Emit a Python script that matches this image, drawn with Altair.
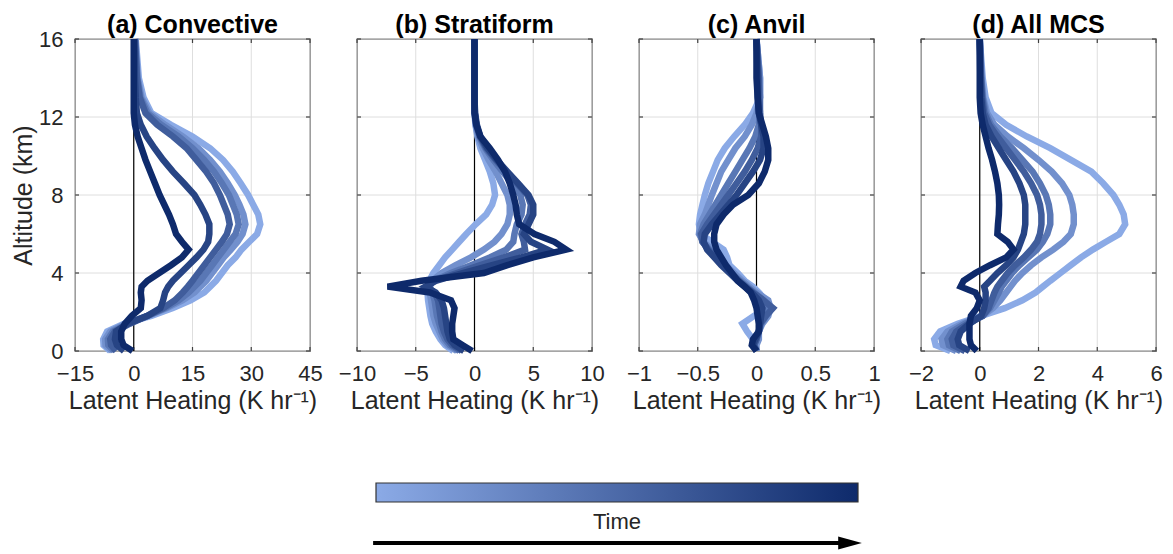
import altair as alt
import pandas as pd

FONT = "Liberation Sans"
TEXT = "#262626"
BOX = "#404040"
GRID = "#dedede"
LIGHT = "#8BAAE6"
DARK = "#0E2A6B"

# altitude levels (km) shared by every profile
ALT_KM = [0.0, 0.3, 0.6, 1.0, 1.4, 1.8, 2.2, 2.6, 3.0, 3.3, 3.6, 4.0, 4.4, 4.8, 5.2, 5.6,
          6.0, 6.5, 7.0, 7.5, 8.0, 8.6, 9.2, 9.8, 10.4, 11.0, 11.6, 12.2, 13.0, 14.0, 16.0]

# latent heating profiles (K/hr), earliest to latest
CONVECTIVE = [
    [-6.0, -7.7, -7.8, -6.8, -2.5, 4.5, 10.0, 14.5, 18.0, 19.5, 21.0, 22.5, 24.0, 26.0, 27.5, 29.5,
     31.5, 32.3, 31.8, 30.5, 29.2, 27.3, 25.3, 22.8, 19.5, 15.0, 9.5, 4.5, 2.5, 1.3, 0.5],
    [-5.5, -7.2, -7.3, -6.0, -2.0, 3.5, 8.5, 12.5, 15.5, 17.0, 18.5, 20.0, 21.5, 23.0, 24.8, 26.5,
     27.8, 28.5, 28.0, 27.0, 25.8, 24.0, 22.0, 19.5, 16.5, 12.5, 8.0, 4.0, 2.0, 1.0, 0.4],
    [-5.0, -6.5, -6.6, -5.3, -1.5, 3.5, 8.0, 11.5, 14.0, 15.5, 17.0, 18.5, 20.0, 21.5, 23.0, 24.5,
     26.0, 26.8, 26.3, 25.3, 24.3, 22.5, 20.5, 18.0, 15.0, 11.5, 7.0, 3.5, 1.7, 0.9, 0.3],
    [-4.5, -5.8, -6.0, -4.8, -1.0, 3.5, 7.5, 10.5, 12.5, 13.8, 15.0, 16.5, 18.0, 19.5, 21.0, 22.5,
     23.8, 24.5, 24.0, 23.0, 22.0, 20.5, 18.5, 16.0, 13.5, 10.0, 6.0, 3.0, 1.5, 0.8, 0.3],
    [-2.5, -4.3, -4.8, -4.5, -1.6, 3.5, 6.8, 7.5, 8.0, 8.8, 10.0, 12.0, 14.0, 16.0, 17.8, 19.0,
     19.3, 19.3, 18.3, 17.0, 15.5, 12.8, 10.0, 7.5, 5.3, 3.3, 1.8, 0.8, 0.5, 0.3, 0.2],
    [-0.3, -2.6, -3.2, -3.2, -2.3, -0.5, 1.8, 2.0, 1.8, 2.0, 3.5, 6.5, 9.5, 12.3, 14.0, 12.3,
     10.8, 10.0, 9.0, 7.8, 6.6, 5.4, 4.2, 3.0, 2.0, 1.0, 0.3, 0.0, 0.0, 0.0, 0.0],
]

STRATIFORM = [
    [-1.8, -2.5, -2.9, -3.3, -3.6, -3.75, -3.85, -3.95, -4.0, -3.95, -3.85, -3.5, -3.0, -2.5, -1.9, -1.3,
     -0.7, 0.1, 1.0, 1.5, 1.75, 1.6, 1.3, 0.9, 0.5, 0.25, 0.08, 0.0, 0.0, 0.0, 0.0],
    [-1.5, -2.3, -2.7, -3.0, -3.3, -3.5, -3.6, -3.7, -3.8, -3.8, -3.6, -2.8, -1.6, -0.3, 0.8, 1.7,
     2.3, 2.8, 3.0, 3.0, 2.8, 2.3, 1.8, 1.2, 0.7, 0.3, 0.1, 0.02, 0.0, 0.0, 0.0],
    [-1.3, -2.1, -2.5, -2.8, -3.0, -3.2, -3.3, -3.4, -3.6, -3.9, -3.5, -2.0, -0.3, 1.3, 2.7, 3.3,
     3.4, 3.6, 4.0, 4.1, 3.9, 3.2, 2.4, 1.6, 0.9, 0.4, 0.15, 0.03, 0.0, 0.0, 0.0],
    [-1.1, -1.9, -2.3, -2.6, -2.8, -2.9, -3.0, -3.1, -3.4, -4.0, -3.4, -1.5, 0.5, 2.5, 4.3, 4.2,
     4.0, 4.3, 4.7, 4.8, 4.5, 3.6, 2.7, 1.8, 1.0, 0.45, 0.15, 0.03, 0.0, 0.0, 0.0],
    [-0.9, -1.7, -2.1, -2.3, -2.4, -2.5, -2.6, -2.8, -3.3, -4.2, -3.3, -1.0, 1.5, 4.0, 6.2, 4.8,
     4.2, 4.6, 5.0, 5.0, 4.6, 3.7, 2.8, 1.9, 1.1, 0.5, 0.2, 0.05, 0.0, 0.0, 0.0],
    [-0.2, -1.0, -1.8, -1.9, -1.9, -1.8, -1.7, -2.0, -3.8, -7.4, -4.5, 0.8, 2.8, 5.0, 7.8, 6.8,
     5.1, 3.8, 3.6, 3.5, 3.3, 3.0, 2.6, 2.0, 1.3, 0.5, 0.15, 0.0, 0.0, 0.0, 0.0],
]

ANVIL = [
    [0.0, -0.01, -0.03, -0.08, -0.12, -0.02, 0.1, 0.08, 0.02, -0.03, -0.1, -0.16, -0.23, -0.25, -0.28, -0.38,
     -0.47, -0.49, -0.48, -0.46, -0.44, -0.41, -0.37, -0.33, -0.27, -0.19, -0.1, -0.03, 0.03, 0.03, 0.0],
    [0.0, 0.0, 0.02, 0.02, 0.05, 0.1, 0.12, 0.1, 0.0, -0.06, -0.12, -0.19, -0.26, -0.32, -0.38, -0.45,
     -0.49, -0.48, -0.44, -0.41, -0.38, -0.34, -0.3, -0.24, -0.18, -0.1, -0.04, 0.0, 0.03, 0.03, 0.0],
    [0.0, -0.02, 0.0, 0.02, 0.04, 0.08, 0.1, 0.06, -0.02, -0.08, -0.14, -0.21, -0.28, -0.34, -0.4, -0.46,
     -0.48, -0.45, -0.4, -0.35, -0.3, -0.24, -0.18, -0.12, -0.06, -0.01, 0.02, 0.03, 0.03, 0.02, 0.0],
    [0.0, -0.02, 0.0, 0.02, 0.03, 0.08, 0.14, 0.06, -0.03, -0.09, -0.15, -0.22, -0.29, -0.35, -0.41, -0.46,
     -0.47, -0.42, -0.36, -0.3, -0.24, -0.17, -0.1, -0.04, 0.01, 0.04, 0.04, 0.03, 0.02, 0.02, 0.0],
    [0.0, -0.03, -0.01, 0.02, 0.03, 0.04, 0.05, 0.02, -0.04, -0.1, -0.16, -0.23, -0.3, -0.36, -0.42, -0.45,
     -0.44, -0.38, -0.31, -0.24, -0.17, -0.1, -0.03, 0.03, 0.06, 0.06, 0.04, 0.02, 0.01, 0.01, 0.0],
    [0.0, -0.04, -0.03, 0.02, 0.02, 0.01, 0.0, -0.02, -0.05, -0.1, -0.16, -0.21, -0.26, -0.3, -0.34, -0.36,
     -0.36, -0.34, -0.28, -0.2, -0.07, 0.02, 0.07, 0.1, 0.1, 0.08, 0.05, 0.02, 0.01, 0.0, 0.0],
]

ALL_MCS = [
    [-1.0, -1.5, -1.55, -1.35, -0.75, 0.05, 0.85, 1.45, 1.9, 2.15, 2.4, 2.75, 3.1, 3.45, 3.85, 4.3,
     4.75, 4.95, 4.9, 4.75, 4.55, 4.2, 3.8, 3.1, 2.4, 1.6, 0.9, 0.4, 0.2, 0.1, 0.0],
    [-0.8, -1.25, -1.3, -1.1, -0.6, 0.1, 0.45, 0.7, 0.9, 1.05, 1.2, 1.45, 1.75, 2.1, 2.5, 2.85,
     3.1, 3.2, 3.2, 3.15, 3.05, 2.8, 2.45, 2.0, 1.5, 0.95, 0.5, 0.25, 0.12, 0.06, 0.0],
    [-0.65, -1.05, -1.1, -0.95, -0.5, 0.1, 0.35, 0.5, 0.65, 0.75, 0.9, 1.1, 1.35, 1.65, 1.95, 2.15,
     2.3, 2.4, 2.4, 2.35, 2.25, 2.05, 1.8, 1.45, 1.1, 0.7, 0.38, 0.2, 0.1, 0.05, 0.0],
    [-0.5, -0.9, -0.95, -0.8, -0.4, 0.1, 0.3, 0.4, 0.5, 0.6, 0.75, 0.95, 1.2, 1.5, 1.75, 1.95,
     2.05, 2.1, 2.1, 2.05, 1.95, 1.75, 1.5, 1.2, 0.9, 0.6, 0.32, 0.15, 0.08, 0.04, 0.0],
    [-0.35, -0.7, -0.75, -0.65, -0.35, 0.05, 0.15, 0.2, 0.2, 0.15, 0.35, 0.6, 0.9, 1.15, 1.3, 1.4,
     1.5, 1.55, 1.55, 1.55, 1.5, 1.35, 1.15, 0.9, 0.65, 0.4, 0.2, 0.1, 0.05, 0.02, 0.0],
    [-0.1, -0.3, -0.35, -0.35, -0.35, -0.3, -0.1, 0.0, -0.15, -0.65, -0.55, -0.15, 0.35, 0.9, 1.15, 0.95,
     0.6, 0.62, 0.65, 0.66, 0.65, 0.6, 0.52, 0.42, 0.3, 0.2, 0.1, 0.03, 0.0, 0.0, 0.0],
]

PANEL_TITLES = ["(a) Convective", "(b) Stratiform", "(c) Anvil", "(d) All MCS"]
X_DOMAINS = [[-15, 45], [-10, 10], [-1, 1], [-2, 6]]
X_TICKS = [[-15, 0, 15, 30, 45], [-10, -5, 0, 5, 10], [-1, -0.5, 0, 0.5, 1], [-2, 0, 2, 4, 6]]
Y_TICKS = [0, 4, 8, 12, 16]

# colour bar and time arrow, in time units (0 = first profile, 1 = last)
TIME_SPAN = [0.0, 1.0]
TIME_LABEL_AT = [0.5]
ARROW_X = [-0.006, 0.97, 1.008]  # tail, end of shaft, tip

X_TITLE = "Latent Heating (K hr\u207b\u00b9)"
PANEL_W, PANEL_H = 235, 312
GAP = 47
TICK_IN = 4  # inward tick length
# the colour bar sits under the middle of the four panels
BAR_RANGE = [301, 783]


def profile_frame(profiles):
    rows = []
    for step, prof in enumerate(profiles):
        for z, v in zip(ALT_KM, prof):
            rows.append({"step": step, "alt": z, "lh": v})
    return pd.DataFrame(rows)


def panel(i, profiles):
    first = i == 0
    xscale = alt.Scale(domain=X_DOMAINS[i], nice=False, zero=False)
    yscale = alt.Scale(domain=[0, 16], nice=False)

    x_axis = alt.Axis(values=X_TICKS[i], format=".1~f", title=X_TITLE, ticks=False, domain=False,
                      grid=False, labelFlush=False, labelPadding=12, titlePadding=4)
    if first:
        y_axis = alt.Axis(values=Y_TICKS, title="Altitude (km)", ticks=False, domain=False,
                          grid=False, labelFlush=False, labelPadding=12, titlePadding=2)
    else:
        y_axis = None

    def X(field):
        return alt.X(field, type="quantitative", scale=xscale, axis=x_axis)

    def Y(field):
        return alt.Y(field, type="quantitative", scale=yscale, axis=y_axis)

    xt = pd.DataFrame({"lh": X_TICKS[i]})
    yt = pd.DataFrame({"alt": Y_TICKS})

    grid_x = alt.Chart(xt).mark_rule(color=GRID, strokeWidth=1).encode(x=X("lh"))
    grid_y = alt.Chart(yt).mark_rule(color=GRID, strokeWidth=1).encode(y=Y("alt"))

    # short inward ticks on all four sides of the box
    tick = dict(color=BOX, strokeWidth=1.2)
    ticks_top = alt.Chart(xt).mark_rule(**tick).encode(
        x=X("lh"), y=alt.value(0), y2=alt.value(TICK_IN))
    ticks_bottom = alt.Chart(xt).mark_rule(**tick).encode(
        x=X("lh"), y=alt.value(PANEL_H - TICK_IN), y2=alt.value(PANEL_H))
    ticks_left = alt.Chart(yt).mark_rule(**tick).encode(
        y=Y("alt"), x=alt.value(0), x2=alt.value(TICK_IN))
    ticks_right = alt.Chart(yt).mark_rule(**tick).encode(
        y=Y("alt"), x=alt.value(PANEL_W - TICK_IN), x2=alt.value(PANEL_W))

    zero = alt.Chart(pd.DataFrame({"lh": [0]})).mark_rule(color="black", strokeWidth=1.2).encode(
        x=X("lh"))
    lines = alt.Chart(profile_frame(profiles)).mark_line(strokeWidth=6.5, clip=False).encode(
        x=X("lh"),
        y=Y("alt"),
        order=alt.Order("alt:Q"),
        color=alt.Color("step:Q", legend=None,
                        scale=alt.Scale(domain=[0, 5], range=[LIGHT, DARK], interpolate="rgb")),
    )
    return alt.layer(grid_x, grid_y, ticks_top, ticks_bottom, ticks_left, ticks_right,
                     zero, lines).properties(
        width=PANEL_W, height=PANEL_H,
        # the title is measured from the line strokes' outer bounds, hence the negative offset
        title=alt.TitleParams(PANEL_TITLES[i], fontSize=25, fontWeight="bold", font=FONT,
                              color="black", offset=-12),
    )


panels = [panel(i, p) for i, p in enumerate([CONVECTIVE, STRATIFORM, ANVIL, ALL_MCS])]

time_scale = alt.Scale(domain=[0, 1], range=BAR_RANGE, nice=False, zero=False)
gradient = alt.Gradient(gradient="linear", x1=0, x2=1, y1=0, y2=0,
                        stops=[alt.GradientStop(color=LIGHT, offset=0),
                               alt.GradientStop(color=DARK, offset=1)])

bar = alt.Chart(pd.DataFrame({"t0": [TIME_SPAN[0]], "t1": [TIME_SPAN[1]]})).mark_rect(
    color=gradient, stroke="#333333", strokeWidth=1.2, clip=False
).encode(x=alt.X("t0:Q", scale=time_scale, axis=None), x2="t1:Q")

label = alt.Chart(pd.DataFrame({"t": TIME_LABEL_AT})).mark_text(
    text="Time", fontSize=22, font=FONT, color=TEXT, baseline="middle", align="center"
).encode(x=alt.X("t:Q", scale=time_scale, axis=None), y=alt.value(39))

shaft = alt.Chart(pd.DataFrame({"a0": [ARROW_X[0]], "a1": [ARROW_X[1]]})).mark_rule(
    color="black", strokeWidth=4
).encode(x=alt.X("a0:Q", scale=time_scale, axis=None), x2="a1:Q", y=alt.value(60))

head = alt.Chart(pd.DataFrame({"tip": [ARROW_X[2]]})).mark_point(
    shape="M-2,-0.55L0,0L-2,0.55Z", filled=True, color="black", opacity=1, size=560
).encode(x=alt.X("tip:Q", scale=time_scale, axis=None), y=alt.value(60))

colorbar = alt.layer(bar, label, shaft, head).properties(
    width=PANEL_W, height=19, view=alt.ViewBackground(stroke="transparent")
)

chart = alt.concat(
    *panels, colorbar, columns=4, spacing={"row": 132, "column": GAP}, bounds="flush", align="each"
).properties(
    padding={"left": 10, "top": 12, "right": 0, "bottom": 0}
).configure(font=FONT).configure_view(
    stroke=BOX, strokeWidth=1.3
).configure_axis(
    labelFont=FONT, titleFont=FONT, labelFontSize=22, titleFontSize=25,
    labelColor=TEXT, titleColor=TEXT, titleFontWeight="normal"
)

chart.save("out.html", embed_options={"renderer": "svg", "actions": False})
